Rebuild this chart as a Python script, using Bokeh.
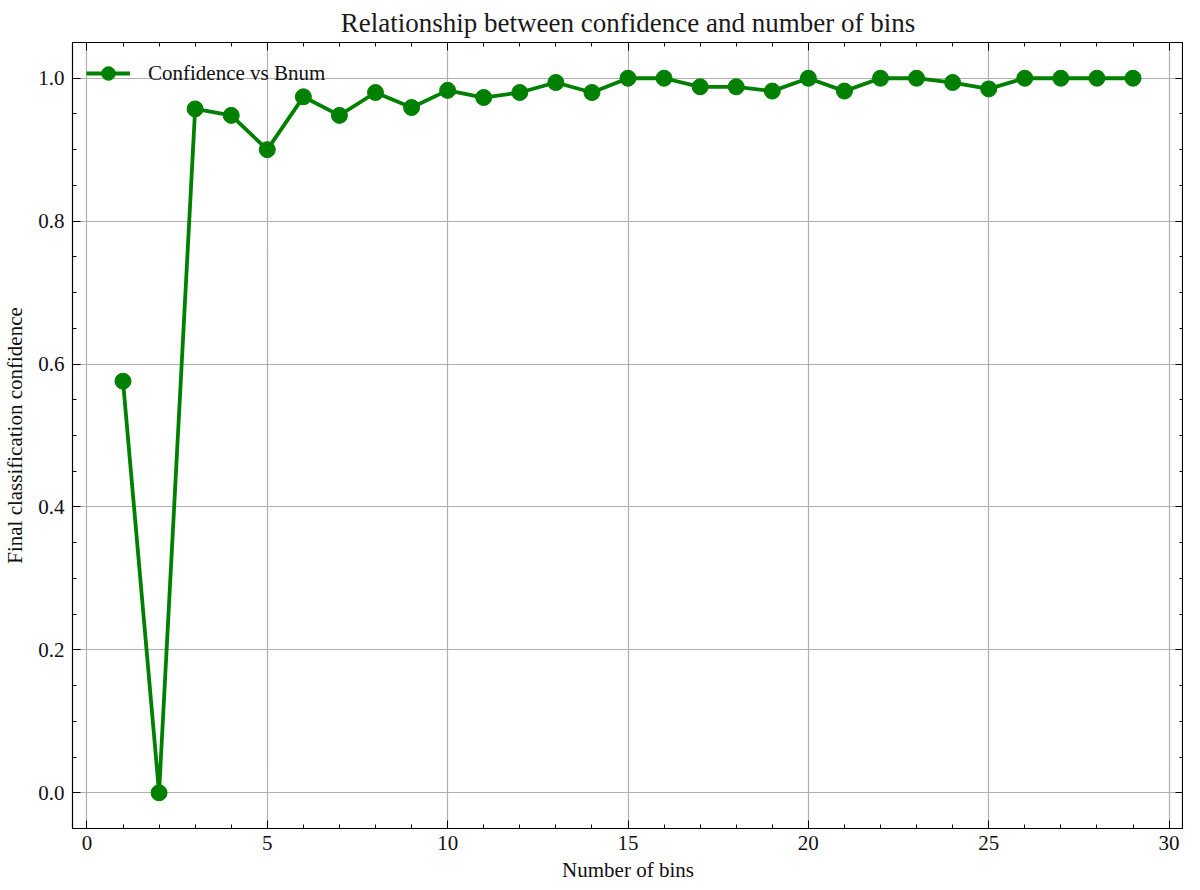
from bokeh.plotting import figure
from bokeh.models import LinearAxis, Range1d, FixedTicker, CustomJSTickFormatter, PrintfTickFormatter
from bokeh.embed import file_html
from bokeh.resources import INLINE

bins = list(range(1, 30))
confidence = [0.576, 0.0, 0.957, 0.948, 0.900, 0.974, 0.948, 0.980, 0.959, 0.983,
              0.973, 0.980, 0.994, 0.980, 1.000, 1.000, 0.988, 0.988, 0.982, 1.000,
              0.982, 1.000, 1.000, 0.994, 0.985, 1.000, 1.000, 1.000, 1.000]
x_ticks = [0, 5, 10, 15, 20, 25, 30]
y_ticks = [0.0, 0.2, 0.4, 0.6, 0.8, 1.0]

FONT = "Liberation Serif"

p = figure(frame_width=1111, frame_height=786, output_backend="svg", toolbar_location=None,
           x_range=Range1d(-0.4, 30.4), y_range=Range1d(-0.05, 1.05),
           min_border_left=69, min_border_right=0, min_border_top=34, min_border_bottom=40,
           title="Relationship between confidence and number of bins")

p.title.align = "center"
p.title.text_font = FONT
p.title.text_font_size = "27px"
p.title.text_font_style = "normal"
p.title.text_color = "#1a1a1a"

p.outline_line_color = "black"
p.outline_line_width = 1.2

p.line(bins, confidence, line_color="green", line_width=3.8, legend_label="Confidence vs Bnum")
p.scatter(bins, confidence, size=16, fill_color="green", line_color="green", legend_label="Confidence vs Bnum")

def style_axis(ax, ticks, minor, labels=True):
    ax.ticker = FixedTicker(ticks=ticks, minor_ticks=minor)
    ax.major_tick_in = 8
    ax.major_tick_out = 0
    ax.minor_tick_in = 4
    ax.minor_tick_out = 0
    ax.axis_line_color = "black"
    ax.major_tick_line_color = "black"
    ax.minor_tick_line_color = "black"
    ax.major_label_text_font = FONT
    ax.major_label_text_font_size = "21px"
    ax.major_label_text_color = "#111111"
    ax.axis_label_text_font = FONT
    ax.axis_label_text_font_size = "21px"
    ax.axis_label_text_font_style = "normal"
    ax.axis_label_text_color = "#111111"
    if not labels:
        ax.major_label_text_font_size = "0px"
        ax.major_label_text_line_height = 0
        ax.axis_label_text_font_size = "0px"
        ax.major_label_standoff = 0
        ax.axis_label_standoff = 0
        ax.formatter = CustomJSTickFormatter(code="return ''")

x_minor = [i for i in range(-1, 32)]
y_minor = [round(-0.05 + 0.05 * i, 2) for i in range(0, 23)]

style_axis(p.xaxis[0], x_ticks, x_minor)
style_axis(p.yaxis[0], y_ticks, y_minor)
p.yaxis[0].formatter = PrintfTickFormatter(format="%.1f")
p.xaxis[0].axis_label = "Number of bins"
p.yaxis[0].axis_label = "Final classification confidence"
p.xaxis[0].major_label_standoff = 7
p.xaxis[0].axis_label_standoff = 5
p.yaxis[0].major_label_standoff = 8
p.yaxis[0].axis_label_standoff = 8

top = LinearAxis()
right = LinearAxis()
style_axis(top, x_ticks, x_minor, labels=False)
style_axis(right, y_ticks, y_minor, labels=False)
p.add_layout(top, "above")
p.add_layout(right, "right")

p.xgrid[0].ticker = FixedTicker(ticks=x_ticks)
p.ygrid[0].ticker = FixedTicker(ticks=y_ticks)
p.grid.grid_line_color = "#b0b0b0"
p.grid.grid_line_width = 1.2

p.legend.location = "top_left"
p.legend.border_line_color = None
p.legend.background_fill_alpha = 0
p.legend.label_text_font = FONT
p.legend.label_text_font_size = "21px"
p.legend.label_text_color = "#111111"
p.legend.glyph_width = 44
p.legend.glyph_height = 34
p.legend.label_standoff = 18
p.legend.margin = 14
p.legend.padding = 4

open("out.html", "w").write(file_html(p, INLINE))
